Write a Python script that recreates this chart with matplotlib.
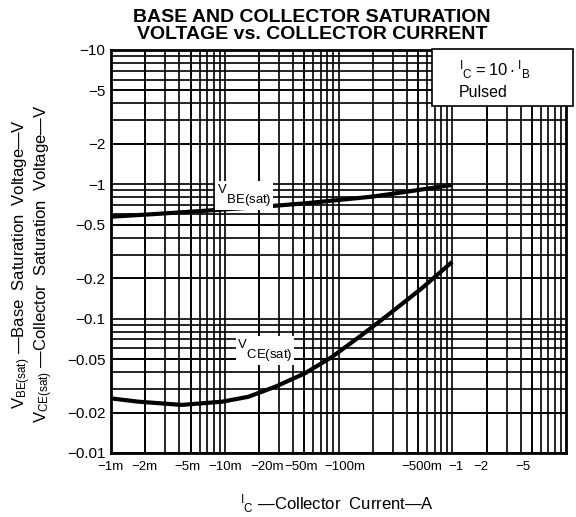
import matplotlib.pyplot as plt
from matplotlib.patches import Rectangle
from matplotlib.transforms import ScaledTranslation

plt.rcParams['font.family'] = ['Liberation Sans', 'DejaVu Sans']
plt.rcParams['mathtext.fontset'] = 'custom'
plt.rcParams['mathtext.rm'] = 'Liberation Sans'

# collector current (A, magnitude) and saturation voltages (V, magnitude)
ic_be = [0.001, 0.00244, 0.0067, 0.0184, 0.051, 0.0995, 0.196, 0.385, 1.0]
vbe_sat = [0.574, 0.601, 0.636, 0.674, 0.722, 0.764, 0.809, 0.877, 0.99]

ic_ce = [0.001, 0.00174, 0.0042, 0.0095, 0.0161, 0.0277, 0.0507, 0.088, 0.16, 0.27, 0.538, 1.0]
vce_sat = [0.0255, 0.0241, 0.0228, 0.0241, 0.0262, 0.0311, 0.0392, 0.052, 0.0755, 0.106, 0.168, 0.265]

x_ticks = [0.001, 0.002, 0.005, 0.01, 0.02, 0.05, 0.1, 0.5, 1, 2, 5]
x_labels = ['\u22121m', '\u22122m', '\u22125m', '\u221210m', '\u221220m', '\u221250m',
            '\u2212100m', '\u2212500m', '\u22121', '\u22122', '\u22125']
y_ticks = [0.01, 0.02, 0.05, 0.1, 0.2, 0.5, 1, 2, 5, 10]
y_labels = ['\u22120.01', '\u22120.02', '\u22120.05', '\u22120.1', '\u22120.2',
            '\u22120.5', '\u22121', '\u22122', '\u22125', '\u221210']

fig = plt.figure(figsize=(5.76, 5.17), dpi=100)
ax = fig.add_axes([0.1927, 0.1238, 0.79, 0.7795])

ax.set_xscale('log')
ax.set_yscale('log')
ax.set_xlim(0.001, 10)
ax.set_ylim(0.01, 10)

ax.plot(ic_be, vbe_sat, color='black', lw=3, solid_capstyle='butt', zorder=3)
ax.plot(ic_ce, vce_sat, color='black', lw=3, solid_capstyle='butt', zorder=3)

ax.set_xticks(x_ticks)
ax.set_xticklabels(x_labels, fontsize=9.5)
ax.set_yticks(y_ticks)
ax.set_yticklabels(y_labels, fontsize=11)
ax.minorticks_off()
ax.grid(which='major', color='black', lw=1.2)
ax.tick_params(axis='x', length=0, pad=6)
ax.tick_params(axis='y', length=0, pad=4)

# the labels sit a little off their ticks in the original (pixels)
shifts = [0, -1, -3, 0, 8, -3, 6, 4, 4, -6, -9]
for lab, dx in zip(ax.get_xticklabels(), shifts):
    lab.set_transform(lab.get_transform() + ScaledTranslation(dx / 100, 0, fig.dpi_scale_trans))

# minor grid lines
for d in [0.001, 0.01, 0.1, 1]:
    for k in range(2, 10):
        ax.axvline(d * k, color='black', lw=1.2, zorder=1)
for d in [0.01, 0.1, 1]:
    for k in range(2, 10):
        ax.axhline(d * k, color='black', lw=1.2, zorder=1)

for s in ax.spines.values():
    s.set_linewidth(2)

# condition box in upper right
ax.add_patch(Rectangle((0.706, 0.862), 0.31, 0.14, transform=ax.transAxes,
                       facecolor='white', edgecolor='black', lw=1.2, zorder=4,
                       clip_on=False))
ax.text(0.765, 0.95, r'$\mathregular{^I{}_C = 10 \cdot {}^I{}_B}$', transform=ax.transAxes,
        fontsize=12, va='center', zorder=5)
ax.text(0.765, 0.895, 'Pulsed', transform=ax.transAxes, fontsize=11.5, va='center', zorder=5)

ax.text(0.0085, 0.82, r'$\mathregular{^V{}_{BE(sat)}}$', fontsize=13.5, va='center', zorder=5,
        bbox=dict(facecolor='white', edgecolor='none', pad=1))
ax.text(0.0128, 0.0575, r'$\mathregular{^V{}_{CE(sat)}}$', fontsize=13.5, va='center', zorder=5,
        bbox=dict(facecolor='white', edgecolor='none', pad=1))

fig.text(0.542, 0.983, 'BASE AND COLLECTOR SATURATION\nVOLTAGE vs. COLLECTOR CURRENT',
         ha='center', va='top', fontsize=14, fontweight='bold', linespacing=1.02)

fig.text(0.057, 0.49, r'$\mathregular{V_{BE(sat)}}$' + ' \u2014Base  Saturation  Voltage\u2014V\n'
         + r'$\mathregular{V_{CE(sat)}}$' + ' \u2014Collector  Saturation  Voltage\u2014V',
         rotation=90, ha='center', va='center', fontsize=12, linespacing=0.95)

fig.text(0.585, 0.003, r'$\mathregular{^I{}_C}$' + ' \u2014Collector  Current\u2014A',
         ha='center', va='bottom', fontsize=12)

fig.savefig('out.png', dpi=100)
